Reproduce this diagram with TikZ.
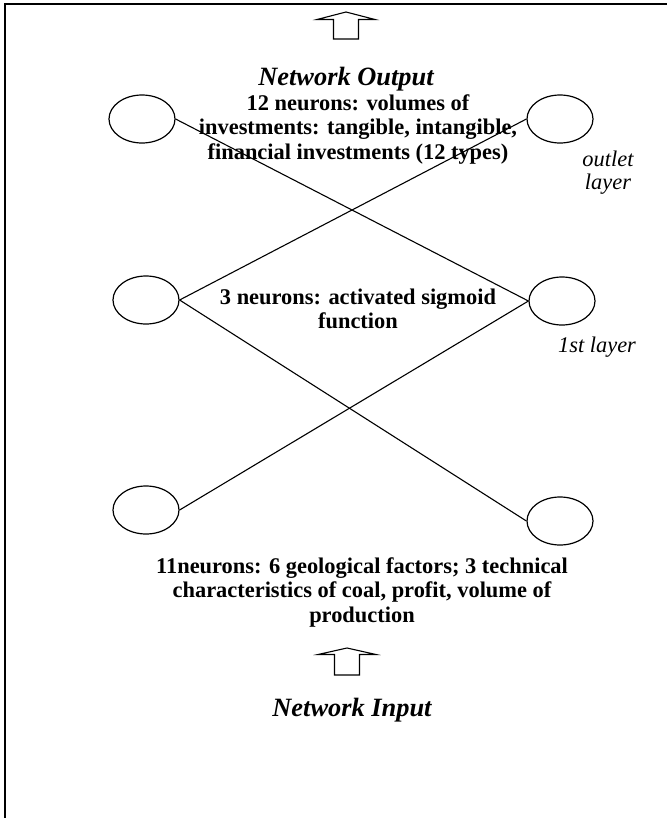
\documentclass[tikz,border=0pt]{standalone}
\usepackage{fontspec}
\setmainfont{Liberation Serif}
\usetikzlibrary{shapes.geometric}
% centred lines whose baseline is the first line's
\newcommand{\stacklines}[1]{\begin{tabular}[t]{@{}c@{}}#1\end{tabular}}

\begin{document}
\begin{tikzpicture}[x=1bp, y=-1bp,
  neuron/.style={draw, ellipse, minimum width=66bp, minimum height=48bp,
                 inner sep=0pt, line width=1.2bp},
  link/.style={line width=1.1bp},
  bodytext/.style={font=\bfseries\fontsize{22.5}{24.6}\selectfont,
                   inner sep=0pt, anchor=base},
  heading/.style={font=\bfseries\itshape\fontsize{26.5}{30}\selectfont,
                  inner sep=0pt, anchor=base},
  tag/.style={font=\itshape\fontsize{22.5}{23.5}\selectfont,
              inner sep=0pt, anchor=base},
  bigarrow/.style={draw, line width=1.1bp, fill=white, line join=miter}
]
\useasboundingbox (0,0) rectangle (667,818);

% frame (top and left edges)
\draw[line width=2bp] (5,818) -- (5,4) -- (667,4);

% output arrow
\draw[bigarrow] (346,12) -- (375,19.5) -- (358.5,19.5) -- (358.5,39)
  -- (333.5,39) -- (333.5,19.5) -- (317,19.5) -- cycle;
\node[heading] (outTitle) at (346,85) {Network Output};

% neurons
\node[neuron] (o1) at (142,119) {};
\node[neuron] (o2) at (560,119) {};
\node[neuron] (h1) at (146,300) {};
\node[neuron] (h2) at (562,301) {};
\node[neuron] (i1) at (146,510) {};
\node[neuron] (i2) at (560,521) {};

% connections
\draw[link] (o1.east) -- (h2.west);
\draw[link] (o2.west) -- (h1.east);
\draw[link] (h1.east) -- (i2.west);
\draw[link] (h2.west) -- (i1.east);

% layer descriptions
\node[bodytext] (outDesc) at (358,110) {\stacklines{12 neurons: volumes of\\
  investments: tangible, intangible,\\financial investments (12 types)}};
\node[tag] (outTag) at (608,166) {\stacklines{outlet\\layer}};

\node[bodytext] (hidDesc) at (358,304) {\stacklines{3 neurons: activated sigmoid\\function}};
\node[tag] (hidTag) at (597,352) {1st layer};

\node[bodytext] (inDesc) at (362,573) {\stacklines{11neurons: 6 geological factors; 3 technical\\
  characteristics of coal, profit, volume of\\production}};

% input arrow
\draw[bigarrow] (347,648) -- (376,654.5) -- (359.5,654.5) -- (359.5,675)
  -- (334.5,675) -- (334.5,654.5) -- (318,654.5) -- cycle;
\node[heading] (inTitle) at (352,716) {Network Input};
\end{tikzpicture}
\end{document}
